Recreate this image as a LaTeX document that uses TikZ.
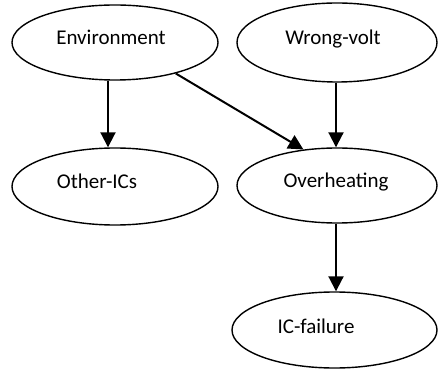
\documentclass[tikz,border=0pt]{standalone}
\usepackage{fontspec}
\setmainfont{Carlito}
\usetikzlibrary{shapes.geometric,arrows.meta}
\begin{document}
\begin{tikzpicture}[x=1pt,y=1pt,
  ell/.style={draw=black,line width=1.4pt,ellipse,inner sep=0pt},
  txt/.style={font=\fontsize{21}{25}\selectfont,anchor=base,inner sep=0pt},
  arr/.style={line width=2pt,-{Triangle[length=15pt,width=15pt]}}]
\useasboundingbox (0,0) rectangle (438,372);
\node[ell,minimum width=206pt,minimum height=75pt] (env) at (115,329.5) {};
\node[ell,minimum width=200pt,minimum height=79pt] (wv) at (337,329.5) {};
\node[ell,minimum width=206pt,minimum height=77pt] (oth) at (115,185.5) {};
\node[ell,minimum width=200pt,minimum height=75pt] (oh) at (337,186.5) {};
\node[ell,minimum width=205pt,minimum height=76pt] (icf) at (334.5,42) {};
\node[txt] (envT) at ([xshift=-4pt,yshift=-2.5pt]env.center) {Environment};
\node[txt] (wvT) at ([xshift=-4pt,yshift=-2.5pt]wv.center) {Wrong-volt};
\node[txt] (othT) at ([xshift=-18pt,yshift=-2pt]oth.center) {Other-ICs};
\node[txt] (ohT) at ([xshift=-1pt,yshift=-2pt]oh.center) {Overheating};
\node[txt] (icfT) at ([xshift=-18.5pt,yshift=-3pt]icf.center) {IC-failure};
\draw[arr] ([xshift=-7pt]env.south) -- ([xshift=-7pt]oth.north);
\draw[arr] (env.-27) -- (oh.133);
\draw[arr] ([xshift=-1pt]wv.south) -- ([xshift=-1pt]oh.north);
\draw[arr] ([xshift=-1pt]oh.south) -- ([xshift=-1pt]oh.south |- icf.north);
\end{tikzpicture}
\end{document}
